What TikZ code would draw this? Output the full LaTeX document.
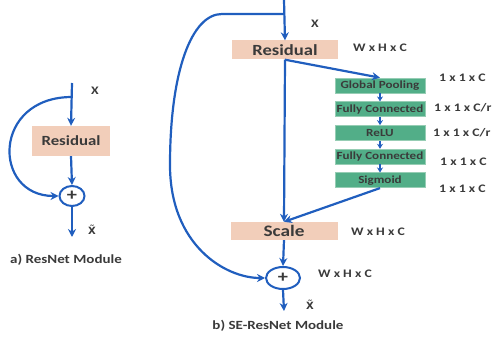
\documentclass[tikz,border=0pt]{standalone}
\usepackage{fontspec}
\setmainfont{Carlito}[FakeStretch=1.2]
\newfontfamily\djvFont{DejaVu Sans}
\usetikzlibrary{arrows.meta,shapes.geometric,calc}
\definecolor{lineB}{RGB}{32,94,190}
\definecolor{resF}{RGB}{242,206,186}
\definecolor{seF}{RGB}{82,174,136}
\definecolor{seD}{RGB}{150,205,180}
\definecolor{txtG}{RGB}{58,58,58}
\tikzset{
	resA/.style={
		fill=resF, text=txtG, inner sep=0pt,
		font={\bfseries\fontsize{14}{14}\selectfont}
	},
	seA/.style={
		fill=seF, draw=seD, line width=0.6pt, text=txtG, inner sep=0pt,
		minimum width=90pt, minimum height=15pt,
		font={\bfseries\fontsize{10.9}{10.9}\selectfont}
	},
	sumA/.style={
		ellipse, draw=lineB, line width=2pt, fill=white, text=txtG, inner sep=0pt,
		font={\bfseries\fontsize{17}{17}\selectfont}
	},
	dimA/.style={text=txtG, inner sep=0pt, font={\bfseries\fontsize{11.5}{11.5}\selectfont}},
	tilA/.style={text=txtG, inner sep=0pt, font={\djvFont\bfseries\fontsize{10}{10}\selectfont}},
	capA/.style={text=txtG, inner sep=0pt, font={\bfseries\fontsize{12.5}{12.5}\selectfont}},
	conA/.style={draw=lineB, line width=2.2pt, ->},
	conB/.style={draw=lineB, line width=1.6pt, -{Stealth[length=5pt,width=6pt]}},
	>={Stealth[length=8pt,width=8pt]},
}
\def\seGap{23.7}

\begin{document}
\begin{tikzpicture}[x=1pt, y=-1pt]
\useasboundingbox (0,0) rectangle (493,339);
% a) ResNet module
\coordinate (ltop) at (72,83);
\coordinate (lsplit) at (72,97);
\node [resA, minimum width=78pt, minimum height=30pt] (lres) at (71,141) {Residual};
\node [sumA, minimum width=25pt, minimum height=20pt] (lplus) at (72,196) {+};
\coordinate (lout) at (72,237);
\node [dimA] (lx) at (95,91) {X};
\node [tilA] (lxt) at (92,230) {X̃};
\node [capA] (lcap) at (66,260) {a) ResNet Module};
\draw [conA] (ltop) -- (lres.north);
\draw [conA] (lres.south) -- (lplus.north);
\draw [conA] (lsplit) .. controls (-8,97) and (-8,196) .. (lplus.west);
\draw [conA] (lplus.south) -- (lout);

% b) SE-ResNet module
\coordinate (rtop) at (284,0);
\coordinate (rsplit) at (284,14);
\node [resA, minimum width=106pt, minimum height=19pt, font={\bfseries\fontsize{15.5}{15.5}\selectfont}] (rres) at (285,50) {Residual};
\node [seA] (gp) at (380,85.5) {Global Pooling};
\node [seA] (fc1) at ($(gp)+(0,\seGap)$) {Fully Connected};
\node [seA] (relu) at ($(fc1)+(0,\seGap)$) {ReLU};
\node [seA] (fc2) at ($(relu)+(0,\seGap)$) {Fully Connected};
\node [seA] (sig) at ($(fc2)+(0,\seGap)$) {Sigmoid};
\node [resA, minimum width=107pt, minimum height=18pt, font={\bfseries\fontsize{16}{16}\selectfont}] (scale) at (284,231) {Scale};
\node [sumA, minimum width=34pt, minimum height=22pt] (rplus) at (283,278) {+};
\coordinate (rout) at (284,311);
\node [dimA] (rx) at (315,24) {X};
\node [tilA] (rxt) at (310,305) {X̃};
\node [capA] (rcap) at (278,326) {b) SE-ResNet Module};
\node [dimA] (dres) at (380,48) {W x H x C};
\node [dimA, anchor=west] (d1) at (439,78) {1 x 1 x C};
\node [dimA, anchor=west] (d2) at (434,108) {1 x 1 x C/r};
\node [dimA, anchor=west] (d3) at (433,133) {1 x 1 x C/r};
\node [dimA, anchor=west] (d4) at (440,162) {1 x 1 x C};
\node [dimA, anchor=west] (d5) at (439,189) {1 x 1 x C};
\node [dimA] (dscale) at (378,232) {W x H x C};
\node [dimA] (dplus) at (345,274) {W x H x C};
\draw [conA] (rtop) -- (rres.north);
\draw [conA] (rsplit) -- (222,14) .. controls (192,14) and (170,70) .. (170,165)
	.. controls (170,245) and (225,278) .. (rplus.west);
\draw [conA] (rres.south) -- (scale.north);
\draw [conA] (rres.south) -- (gp.north);
\draw [conA] (sig.south) -- (scale.north);
\path (gp) edge [conB] (fc1);
\path (fc1) edge [conB] (relu);
\path (relu) edge [conB] (fc2);
\path (fc2) edge [conB] (sig);
\draw [conA] (scale.south) -- (rplus.north);
\draw [conA] (rplus.south) -- (rout);
\end{tikzpicture}
\end{document}
